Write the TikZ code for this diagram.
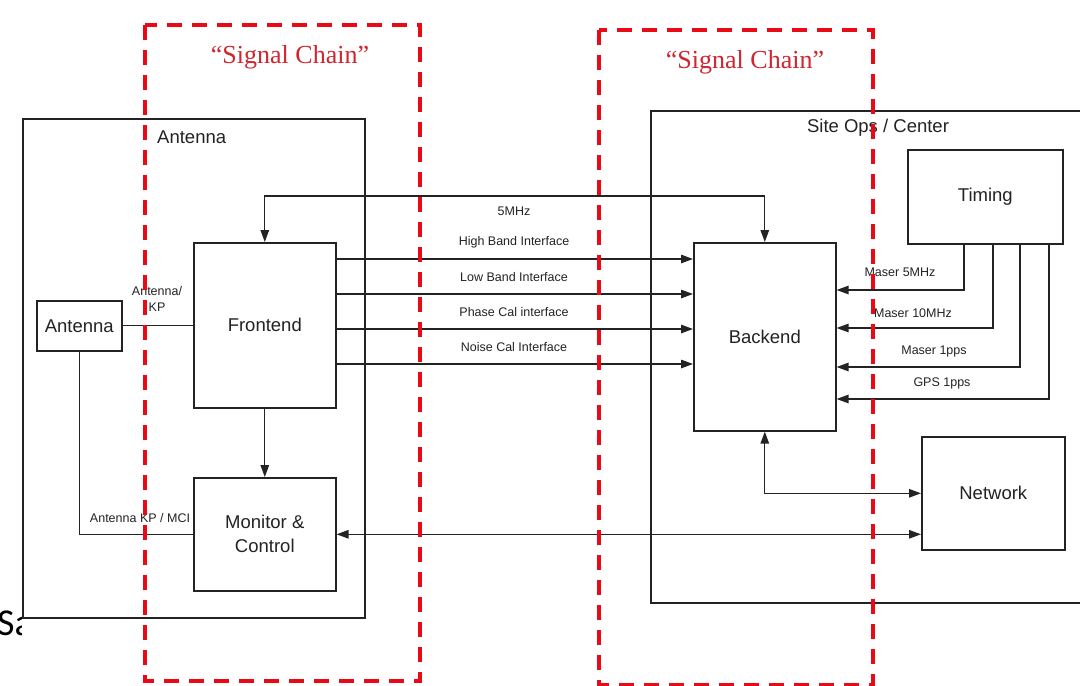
\documentclass[tikz,border=0pt]{standalone}
\usepackage{fontspec}
\setmainfont{Liberation Sans}
\newfontfamily\sigfont{Liberation Serif}
\newfontfamily\calib{Carlito}
\usetikzlibrary{arrows.meta}
\definecolor{sigred}{RGB}{208,38,48}
\definecolor{dashred}{RGB}{232,10,20}
\definecolor{ink}{RGB}{35,35,35}
\begin{document}
\begin{tikzpicture}[x=1pt,y=-1pt,
  box/.style={draw=ink, line width=1.6pt, fill=white, inner sep=0pt, align=center,
    font=\fontsize{18.5}{24}\selectfont, text=ink},
  conn/.style={draw=ink, line width=1.3pt},
  arr/.style={conn, -{Triangle[length=12pt,width=8.5pt]}},
  dbl/.style={conn, {Triangle[length=12pt,width=8.5pt]}-{Triangle[length=12pt,width=8.5pt]}},
  lbl/.style={font=\fontsize{12.5}{16}\selectfont, text=ink, inner sep=0pt, align=center},
  title/.style={font=\fontsize{18.5}{22}\selectfont, text=ink, inner sep=0pt},
  reddash/.style={draw=dashred, line width=4.5pt, dash pattern=on 15pt off 10pt},
  sig/.style={font=\sigfont\fontsize{26}{30}\selectfont, text=sigred, inner sep=0pt}]
\useasboundingbox (0,0) rectangle (1080,686);
\clip (0,0) rectangle (1080,686);
\fill[white] (0,0) rectangle (1080,686);

% clipped fragment of text
\begin{scope}
  \clip (0,0) rectangle (21,686);
  \node[anchor=base west, inner sep=0pt, font=\calib\fontsize{38}{44}\selectfont, text=black] (sa) at (-3,635) {Sa};
\end{scope}

% containers
\node[box, anchor=north west, minimum width=342pt, minimum height=499pt] (antbox) at (22,118) {};
\node[title, anchor=west] (antlbl) at (157,137) {Antenna};
\node[box, anchor=north west, minimum width=440pt, minimum height=492pt] (site) at (650,110) {};
\node[title] (sitelbl) at (878,128) {Site Ops / Center};

% blocks
\node[box, anchor=north west, minimum width=85pt, minimum height=50pt] (ant) at (36,300) {Antenna};
\node[box, anchor=north west, minimum width=142pt, minimum height=165pt] (fe) at (193,242) {Frontend};
\node[box, anchor=north west, minimum width=142pt, minimum height=113pt] (mc) at (193,477) {Monitor \&\\Control};
\node[box, anchor=north west, minimum width=142pt, minimum height=188pt] (be) at (693,242) {Backend};
\node[box, anchor=north west, minimum width=155pt, minimum height=94pt] (tim) at (907,149) {Timing};
\node[box, anchor=north west, minimum width=143pt, minimum height=113pt] (nw) at (921,436) {Network};

% antenna side
\draw[conn] (ant.east) -- (ant.east -| fe.west);
\node[lbl] (akp) at (157,299) {Antenna/\\KP};
\draw[conn] (ant.south) |- (mc.west);
\node[lbl] (akpmci) at (140,518) {Antenna KP / MCI};
\draw[arr] (fe.south) -- (mc.north);

% 5MHz
\draw[dbl] (fe.north) -- ++(0,-46) -| (be.north);
\node[lbl] (l5) at (514,211) {5MHz};

% interfaces
\coordinate (i1) at (0,259);
\coordinate (i2) at (0,294);
\coordinate (i3) at (0,329);
\coordinate (i4) at (0,364);
\draw[arr] (fe.east |- i1) -- (be.west |- i1);
\draw[arr] (fe.east |- i2) -- (be.west |- i2);
\draw[arr] (fe.east |- i3) -- (be.west |- i3);
\draw[arr] (fe.east |- i4) -- (be.west |- i4);
\node[lbl] (lhb) at (514,242) {High Band Interface};
\node[lbl] (llb) at (514,277) {Low Band Interface};
\node[lbl] (lpc) at (514,312) {Phase Cal interface};
\node[lbl] (lnc) at (514,347) {Noise Cal Interface};

% timing
\coordinate (t1) at (964,290);
\coordinate (t2) at (993,328);
\coordinate (t3) at (1020,367);
\coordinate (t4) at (1049,399);
\draw[arr] (tim.south -| t1) |- (be.east |- t1);
\draw[arr] (tim.south -| t2) |- (be.east |- t2);
\draw[arr] (tim.south -| t3) |- (be.east |- t3);
\draw[arr] (tim.south -| t4) |- (be.east |- t4);
\node[lbl] (lm5) at (900,272) {Maser 5MHz};
\node[lbl] (lm10) at (913,313) {Maser 10MHz};
\node[lbl] (lm1) at (934,351) {Maser 1pps};
\node[lbl] (lgps) at (942,383) {GPS 1pps};

% network
\draw[dbl] (be.south) |- (nw.west);
\draw[dbl] (mc.east) -- (mc.east -| nw.west);

% signal chain frames
\draw[reddash] (145,25) rectangle (420,681);
\draw[reddash] (599,30) rectangle (873,685);
\node[sig] (sc1) at (290,57) {“Signal Chain”};
\node[sig] (sc2) at (745,62) {“Signal Chain”};
\end{tikzpicture}
\end{document}
